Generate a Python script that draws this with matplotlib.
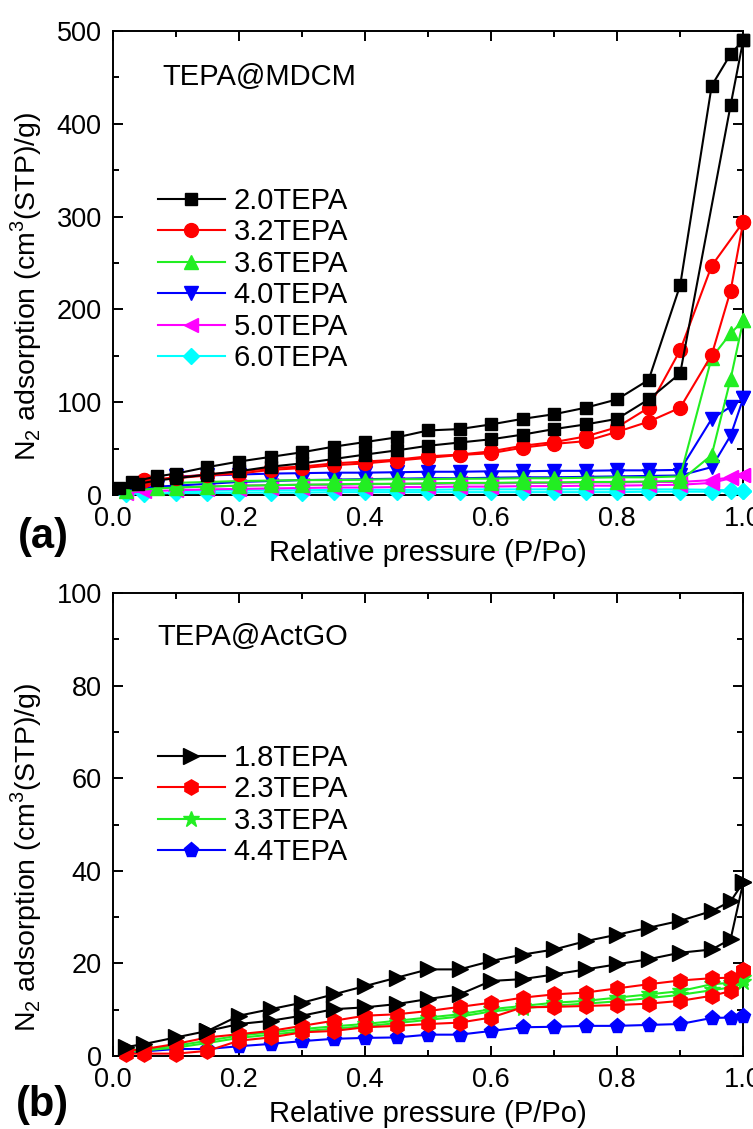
import matplotlib
matplotlib.use('Agg')
import matplotlib.pyplot as plt
from matplotlib.ticker import MultipleLocator

plt.rcParams['font.family'] = ['Liberation Sans', 'DejaVu Sans']
plt.rcParams['mathtext.fontset'] = 'custom'
plt.rcParams['mathtext.rm'] = 'Liberation Sans'

# ---------------------------------------------------------------------------
# (a) TEPA@MDCM  -- adsorption (ads) and desorption (des) branches
# ---------------------------------------------------------------------------
x_mid = [0.1, 0.15, 0.2, 0.25, 0.3, 0.35, 0.4, 0.45, 0.5, 0.55, 0.6, 0.65,
         0.7, 0.75, 0.8, 0.85, 0.9]

a20_ads_x = [0.01, 0.04, 0.07] + x_mid + [0.98, 1.0]
a20_ads_y = [8, 12, 15.6, 18, 22, 25.6, 30.5, 34, 38.7, 43.5, 48, 53, 56.5,
             60, 65, 71, 76, 82, 103, 131, 420, 490]
a20_des_x = [1.0, 0.98, 0.95] + x_mid[::-1] + [0.07, 0.03]
a20_des_y = [490, 475, 441, 226, 124, 103, 94, 87, 82, 76, 71, 69.5, 62, 57,
             52, 46, 41, 36, 30, 23, 20, 14]

a32_ads_x = [0.05] + x_mid + [0.95, 0.98, 1.0]
a32_ads_y = [15.6, 18, 21, 23, 27, 29, 32, 34, 37, 40, 43, 45, 51, 55, 58,
             68, 79, 94, 151, 220, 294]
a32_des_x = [1.0, 0.95] + x_mid[::-1] + [0.05]
a32_des_y = [294, 247, 156, 94, 73, 63, 57, 53, 47, 43.5, 41.6, 38, 36, 34,
             30.5, 29, 25, 22, 19, 15.6]

a36_ads_x = [0.02, 0.07] + x_mid + [0.95, 0.98, 1.0]
a36_ads_y = [4, 7, 8, 9, 10, 10.5, 11, 11.5, 12, 12, 12.5, 13, 13, 13.5,
             13.5, 14, 14, 14.5, 15, 43, 125, 188]
a36_des_x = [1.0, 0.98, 0.95] + x_mid[::-1]
a36_des_y = [188, 174, 148, 20, 19, 19, 18.5, 18, 18, 17.5, 17.5, 17, 17,
             16.5, 16, 16, 15.5, 15, 14, 13]

a40_ads_x = [0.02, 0.07] + x_mid + [0.95, 0.98, 1.0]
a40_ads_y = [5, 9, 10, 12, 14, 15, 16, 16.5, 17, 17.5, 18, 18, 18.5, 19,
             19, 19.5, 20, 20.5, 21, 30, 64, 104]
a40_des_x = [1.0, 0.98, 0.95] + x_mid[::-1]
a40_des_y = [104, 95, 82, 27, 26.5, 26.5, 26, 26, 25.5, 25.5, 25, 25, 24.5,
             24, 24, 23.5, 23, 22, 21, 20]

a50_ads_x = [0.02, 0.05] + x_mid + [0.95, 0.98, 1.0]
a50_ads_y = [2, 4, 5, 6, 6.5, 7, 7.5, 8, 8, 8.5, 8.5, 9, 9, 9.5, 9.5, 10,
             10, 10.5, 11, 13, 18, 21]
a50_des_x = [1.0, 0.98, 0.95] + x_mid[::-1]
a50_des_y = [21, 19, 16, 14, 14, 13.5, 13.5, 13, 13, 12.5, 12.5, 12, 12,
             11.5, 11, 11, 10.5, 10, 9, 8]

a60_ads_x = [0.02, 0.05] + x_mid + [0.95, 0.98, 1.0]
a60_ads_y = [1, 1.5, 2, 2, 2.5, 2.5, 2.5, 3, 3, 3, 3, 3, 3, 3, 3, 3, 3, 3.5,
             3.5, 3.5, 4, 4]
a60_des_x = [1.0, 0.98, 0.95] + x_mid[::-1]
a60_des_y = [4, 5, 5.5, 6, 6, 6, 6, 6, 6, 6, 6, 5.5, 5.5, 5.5, 5.5, 5, 5,
             5, 4.5, 4]

# ---------------------------------------------------------------------------
# (b) TEPA@ActGO
# ---------------------------------------------------------------------------
x_b = [0.02, 0.05, 0.1, 0.15, 0.2, 0.25, 0.3, 0.35, 0.4, 0.45, 0.5, 0.55,
       0.6, 0.65, 0.7, 0.75, 0.8, 0.85, 0.9, 0.95, 0.98, 1.0]

b18_ads_y = [1.9, 2.6, 4.0, 5.4, 6.9, 7.6, 8.7, 10.1, 10.5, 11.2, 12.3, 13.3,
             16.2, 16.6, 17.6, 18.7, 19.8, 20.9, 22.3, 23.0, 25.2, 37.5]
b18_des_x = [1.0, 0.98, 0.95, 0.9, 0.85, 0.8, 0.75, 0.7, 0.65, 0.6, 0.55,
             0.5, 0.45, 0.4, 0.35, 0.3, 0.25, 0.2, 0.15]
b18_des_y = [37.5, 33.4, 31.3, 29.2, 27.7, 26.2, 24.8, 23.0, 21.9, 20.5,
             18.7, 18.7, 16.9, 15.1, 13.3, 11.5, 10.1, 8.7, 5.4]

b23_ads_y = [0.5, 0.5, 0.5, 1.1, 3.3, 4.0, 5.1, 5.4, 6.2, 6.5, 6.9, 7.2, 8.3,
             10.5, 10.6, 10.8, 11.0, 11.3, 11.9, 13.0, 14.0, 18.5]
b23_des_y = [1.1, 1.5, 2.6, 4.0, 4.7, 5.4, 6.5, 7.6, 8.7, 9.0, 9.7, 10.6,
             11.5, 12.6, 13.3, 13.7, 14.6, 15.5, 16.3, 16.8, 16.9, 18.5]

b33_ads_y = [0.8, 1.2, 1.8, 2.8, 3.9, 4.6, 5.3, 5.9, 6.4, 7.1, 7.8, 8.5,
             9.6, 10.3, 10.9, 11.3, 11.8, 12.5, 13.2, 14.2, 14.8, 16.0]
b33_des_y = [1.0, 1.5, 2.2, 3.3, 4.4, 5.1, 5.8, 6.4, 6.9, 7.6, 8.3, 9.0,
             10.1, 10.8, 11.5, 11.9, 12.6, 13.3, 14.0, 15.5, 15.8, 16.9]

b44_y = [0.8, 1.0, 1.5, 1.5, 2.1, 2.6, 3.2, 3.7, 3.9, 4.0, 4.6, 4.6, 5.4,
         6.2, 6.3, 6.5, 6.5, 6.7, 6.9, 8.2, 8.3, 8.7]

BLACK, RED, GREEN, BLUE = '#000000', '#ff0000', '#22ee22', '#0000ff'
MAGENTA, CYAN = '#ff00ff', '#00ffff'


def draw(ax, xs, ys, color, marker, ms, label=None):
    ax.plot(xs, ys, color=color, marker=marker, markersize=ms, lw=1.5,
            markeredgecolor=color, label=label, clip_on=False, zorder=3)


def style_axes(ax, ymax, ymajor, yminor, ylab_y):
    ax.set_xlim(0, 1.0)
    ax.set_ylim(0, ymax)
    ax.xaxis.set_major_locator(MultipleLocator(0.2))
    ax.xaxis.set_minor_locator(MultipleLocator(0.1))
    ax.yaxis.set_major_locator(MultipleLocator(ymajor))
    ax.yaxis.set_minor_locator(MultipleLocator(yminor))
    ax.xaxis.set_major_formatter(plt.FuncFormatter(lambda v, _: f'{v:.1f}'))
    ax.tick_params(which='both', direction='in', top=True, right=True,
                   width=1.4, labelsize=19.5, pad=8)
    ax.tick_params(which='major', length=7)
    ax.tick_params(which='minor', length=4)
    for s in ax.spines.values():
        s.set_linewidth(1.4)
    ax.set_xlabel('Relative pressure (P/Po)', fontsize=21, labelpad=5)
    ax.set_ylabel(r'N$_2$ adsorption (cm$^3$(STP)/g)', fontsize=20.5)
    ax.yaxis.set_label_coords(-0.11, ylab_y)


fig = plt.figure(figsize=(7.53, 11.29), dpi=100)
ax1 = fig.add_axes([0.150, 0.5616, 0.837, 0.411])
ax2 = fig.add_axes([0.150, 0.0647, 0.837, 0.410])

# ---- panel (a)
series_a = [
    ('2.0TEPA', BLACK, 's', 9, a20_ads_x, a20_ads_y, a20_des_x, a20_des_y),
    ('3.2TEPA', RED, 'o', 10, a32_ads_x, a32_ads_y, a32_des_x, a32_des_y),
    ('3.6TEPA', GREEN, '^', 10, a36_ads_x, a36_ads_y, a36_des_x, a36_des_y),
    ('4.0TEPA', BLUE, 'v', 10, a40_ads_x, a40_ads_y, a40_des_x, a40_des_y),
    ('5.0TEPA', MAGENTA, '<', 10, a50_ads_x, a50_ads_y, a50_des_x, a50_des_y),
    ('6.0TEPA', CYAN, 'D', 8, a60_ads_x, a60_ads_y, a60_des_x, a60_des_y),
]
for label, c, m, ms, ax_, ay_, dx_, dy_ in series_a[::-1]:
    draw(ax1, dx_, dy_, c, m, ms)
    draw(ax1, ax_, ay_, c, m, ms, label=label)
style_axes(ax1, 500, 100, 50, 0.45)
h, l = ax1.get_legend_handles_labels()
ax1.legend(h[::-1], l[::-1], loc='upper left', bbox_to_anchor=(0.071, 0.664),
           frameon=False, fontsize=21, handlelength=2.3, handletextpad=0.3,
           labelspacing=0.12, borderpad=0, borderaxespad=0)
ax1.text(0.078, 0.9, 'TEPA@MDCM', transform=ax1.transAxes, fontsize=21,
         va='center', ha='left')

# ---- panel (b)
draw(ax2, x_b, b44_y, BLUE, 'p', 11)
draw(ax2, x_b, b33_des_y, GREEN, '*', 12)
draw(ax2, x_b, b33_ads_y, GREEN, '*', 12)
draw(ax2, x_b, b23_des_y, RED, 'h', 11)
draw(ax2, x_b, b23_ads_y, RED, 'h', 11)
draw(ax2, b18_des_x, b18_des_y, BLACK, '>', 11)
draw(ax2, x_b, b18_ads_y, BLACK, '>', 11)
style_axes(ax2, 100, 20, 10, 0.43)
ax2.text(0.071, 0.905, 'TEPA@ActGO', transform=ax2.transAxes, fontsize=21,
         va='center', ha='left')
handles_b = [
    plt.Line2D([], [], color=BLACK, marker='>', markersize=11, lw=1.5),
    plt.Line2D([], [], color=RED, marker='h', markersize=11, lw=1.5),
    plt.Line2D([], [], color=GREEN, marker='*', markersize=12, lw=1.5),
    plt.Line2D([], [], color=BLUE, marker='p', markersize=11, lw=1.5),
]
ax2.legend(handles_b, ['1.8TEPA', '2.3TEPA', '3.3TEPA', '4.4TEPA'],
           loc='upper left', bbox_to_anchor=(0.071, 0.674), frameon=False,
           fontsize=21, handlelength=2.3, handletextpad=0.3,
           labelspacing=0.12, borderpad=0, borderaxespad=0)

fig.text(0.057, 0.524, '(a)', fontsize=30, fontweight='bold',
         ha='center', va='center')
fig.text(0.057, 0.0213, '(b)', fontsize=30, fontweight='bold',
         ha='center', va='center')

fig.savefig('out.png', dpi=100, facecolor='white')
